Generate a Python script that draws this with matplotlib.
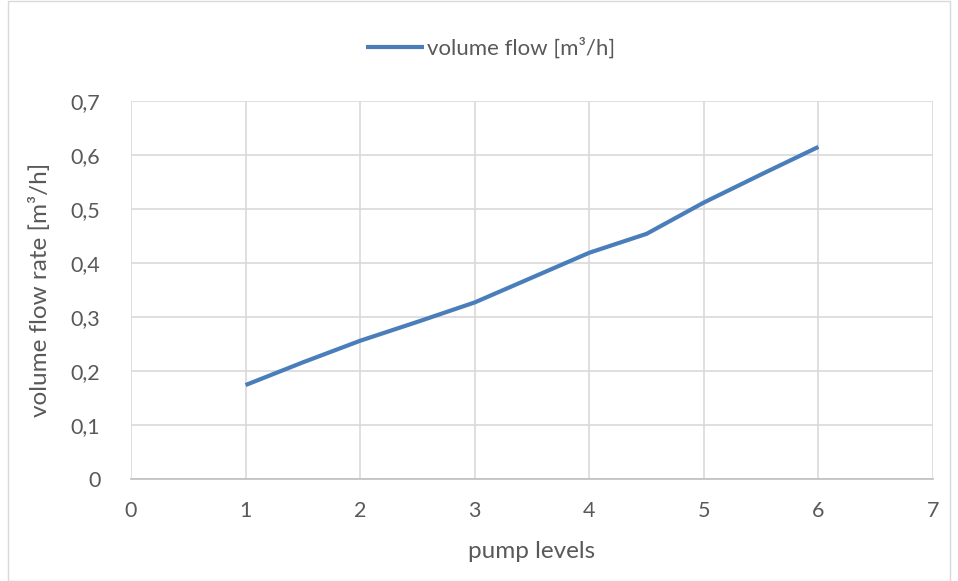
import matplotlib
matplotlib.use("Agg")
import matplotlib.pyplot as plt
from matplotlib.patches import Rectangle
from matplotlib.ticker import FuncFormatter

# pump level vs. measured volume flow
pump_levels = [1, 1.5, 2, 2.5, 3, 3.5, 4, 4.5, 5, 5.5, 6]
volume_flow = [0.174, 0.216, 0.256, 0.291, 0.327, 0.373, 0.419, 0.454, 0.512, 0.564, 0.615]
x_ticks = [0, 1, 2, 3, 4, 5, 6, 7]
y_ticks = [0, 0.1, 0.2, 0.3, 0.4, 0.5, 0.6, 0.7]

plt.rcParams['font.family'] = ['Lato', 'DejaVu Sans']
text_color = '#595959'
grid_color = '#d9d9d9'

W, H = 958, 581
fig = plt.figure(figsize=(W / 100, H / 100), dpi=100)
fig.patches.append(Rectangle((8 / W, 0), (950 - 8) / W, 1 - 1 / H, transform=fig.transFigure,
                             fill=False, edgecolor=grid_color, linewidth=1))

ax = fig.add_axes([131 / W, (H - 479) / H, (933 - 131) / W, (479 - 101) / H])
line, = ax.plot(pump_levels, volume_flow, color='#4a7ebb', linewidth=3, label='volume flow [m³/h]',
                solid_capstyle='butt', solid_joinstyle='round')

ax.set_xlim(0, 7)
ax.set_ylim(0, 0.7)
ax.set_xticks(x_ticks)
ax.set_yticks(y_ticks)
ax.xaxis.set_major_formatter(FuncFormatter(lambda v, p: f"{v:g}"))
ax.yaxis.set_major_formatter(FuncFormatter(lambda v, p: f"{v:.1f}".replace('.', ',') if v else "0"))
ax.grid(True, color=grid_color, linewidth=1.2)
ax.set_axisbelow(True)
for side in ['top', 'right', 'left']:
    ax.spines[side].set_visible(False)
ax.spines['bottom'].set_color('#bfbfbf')
ax.spines['bottom'].set_linewidth(1.2)
ax.tick_params(length=0, labelsize=15.5, colors=text_color)
ax.tick_params(axis='x', pad=16)
ax.tick_params(axis='y', pad=22)

ax.set_xlabel('pump levels', fontsize=17.5, color=text_color, labelpad=14)
ax.set_ylabel('volume flow rate [m³/h]', fontsize=17.5, color=text_color, labelpad=14)

leg = fig.legend(handles=[line], loc='center', bbox_to_anchor=(491 / W, 1 - 48 / H),
                 frameon=False, fontsize=16, handlelength=2.6, handletextpad=0.15,
                 borderaxespad=0, borderpad=0)
for t in leg.get_texts():
    t.set_color(text_color)

fig.savefig('out.png', dpi=100)
